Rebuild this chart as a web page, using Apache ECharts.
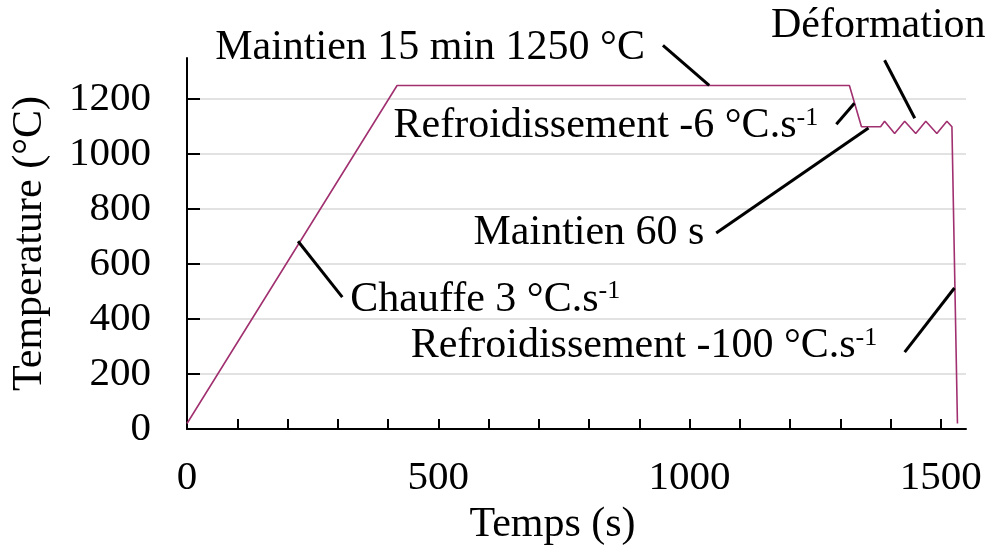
<!DOCTYPE html>
<html>
<head>
<meta charset="utf-8">
<script src="https://cdn.jsdelivr.net/npm/echarts@6/dist/echarts.min.js"></script>
<style>
  html, body { margin: 0; background: #fff; }
  #chart { width: 990px; height: 551px; }
</style>
</head>
<body>
<div id="chart"></div>
<script>
// cycle thermique : temps (s) / température (°C)
const timeS = [0, 418, 1318, 1342, 1380, 1388, 1408, 1428, 1450, 1470, 1492, 1512, 1522, 1533];
const tempC = [20, 1250, 1250, 1100, 1100, 1120, 1075, 1120, 1075, 1120, 1075, 1120, 1100, 20];

const xTicks = [0, 100, 200, 300, 400, 500, 600, 700, 800, 900, 1000, 1100, 1200, 1300, 1400, 1500];
const xLabels = [0, 500, 1000, 1500];
const yTicks = [0, 200, 400, 600, 800, 1000, 1200];

// annotations (coordonnées en unités des axes)
const noteTexts = [
  'Maintien 15 min 1250 °C',
  'Déformation',
  'Refroidissement -6 °C.s{sup|-1}',
  'Maintien 60 s',
  'Chauffe 3 °C.s{sup|-1}',
  'Refroidissement -100 °C.s{sup|-1}'
];
const noteAt = [[56, 1387], [1162, 1465], [411, 1102], [570, 712], [325, 471], [445, 303]];
const noteFrom = [[947, 1396], [1388, 1342], [1292, 1109], [1053, 713], [309, 480], [1428, 280]];
const noteTo = [[1039, 1250], [1448, 1131], [1328, 1185], [1356, 1095], [221, 683], [1527, 513]];

const FONT = 'Liberation Serif';
const FS_TICK = 41;
const FS_TEXT = 42;

const chart = echarts.init(document.getElementById('chart'));

chart.setOption({
  backgroundColor: '#fff',
  animation: false,
  grid: { left: 187, right: 24, top: 58, bottom: 122 },
  xAxis: {
    type: 'value',
    min: 0,
    max: 1550,
    name: 'Temps (s)',
    nameLocation: 'middle',
    nameGap: 74,
    nameTextStyle: { fontFamily: FONT, fontSize: FS_TEXT, color: '#000', padding: [0, 48, 0, 0] },
    axisLine: { lineStyle: { color: '#000', width: 2 } },
    axisTick: { inside: true, length: 10, customValues: xTicks, lineStyle: { color: '#000', width: 2 } },
    axisLabel: {
      customValues: xLabels, margin: 29, fontFamily: FONT, fontSize: FS_TICK, color: '#000',
      formatter: (v) => String(v)
    },
    splitLine: { show: false }
  },
  yAxis: {
    type: 'value',
    min: 0,
    max: 1350,
    name: 'Temperature (°C)',
    nameLocation: 'middle',
    nameGap: 136,
    nameTextStyle: { fontFamily: FONT, fontSize: FS_TEXT, color: '#000' },
    axisLine: { show: true, lineStyle: { color: '#000', width: 2 } },
    axisTick: { show: true, inside: true, length: 13, customValues: yTicks, lineStyle: { color: '#000', width: 2 } },
    axisLabel: {
      customValues: yTicks, margin: 36, fontFamily: FONT, fontSize: FS_TICK, color: '#000',
      formatter: (v) => String(v)
    },
    splitLine: { show: true, lineStyle: { color: '#d9d9d9', width: 1.5 } }
  },
  series: [{
    type: 'line',
    data: timeS.map((t, i) => [t, tempC[i]]),
    showSymbol: false,
    clip: false,
    lineStyle: { color: '#a0306f', width: 1.6 },
    z: 3
  }]
});

const px = (p) => chart.convertToPixel({ gridIndex: 0 }, p);

const graphics = [];
noteTexts.forEach((txt, i) => {
  const a = px(noteFrom[i]);
  const b = px(noteTo[i]);
  graphics.push({
    type: 'line',
    shape: { x1: a[0], y1: a[1], x2: b[0], y2: b[1] },
    style: { stroke: '#000', lineWidth: 3 },
    z: 10
  });
  const p = px(noteAt[i]);
  graphics.push({
    type: 'text',
    x: p[0],
    y: p[1],
    style: {
      text: txt,
      fontFamily: FONT,
      fontSize: FS_TEXT,
      fill: '#000',
      align: 'left',
      verticalAlign: 'middle',
      rich: {
        sup: { fontFamily: FONT, fontSize: 26, fill: '#000', verticalAlign: 'top' }
      }
    },
    z: 10
  });
});

chart.setOption({ graphic: graphics });
</script>
</body>
</html>
